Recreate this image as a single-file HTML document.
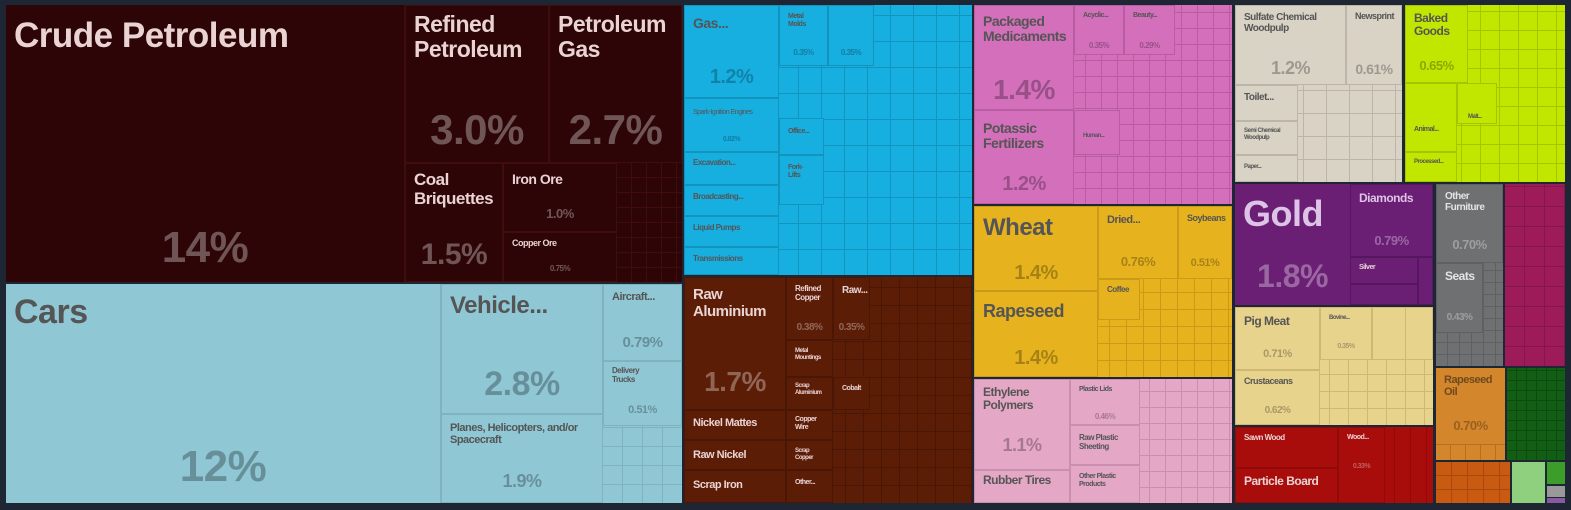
<!DOCTYPE html>
<html><head><meta charset="utf-8">
<style>
body{margin:0;background:#1e2533;width:1571px;height:510px;overflow:hidden;font-family:"Liberation Sans",sans-serif}
.b{position:absolute;box-sizing:border-box;overflow:hidden;font-weight:bold;letter-spacing:-0.5px}
.d{color:#ead3d3}.d .p{color:rgba(255,255,255,0.32)}
.l{color:#555}.l .p{color:rgba(0,0,0,0.28)}
.t{position:absolute;left:8px;top:6px;line-height:1.1}
.p{position:absolute;left:0;right:0;text-align:center}
.g{position:absolute;box-sizing:border-box}
</style></head><body>

<!-- Minerals -->
<div class="b d" style="left:6px;top:5px;width:676px;height:277px;background:#2d0507"></div>
<div class="b d" style="left:6px;top:5px;width:399px;height:277px;border-right:1px solid #400c0e"><div class="t" style="font-size:35px;top:12px">Crude Petroleum</div><div class="p" style="top:218px;font-size:44px">14%</div></div>
<div class="b d" style="left:405px;top:5px;width:144px;height:158px;border:1px solid #400c0e"><div class="t" style="font-size:23px;top:6px">Refined<br>Petroleum</div><div class="p" style="top:100px;font-size:42px">3.0%</div></div>
<div class="b d" style="left:549px;top:5px;width:133px;height:158px;border:1px solid #400c0e"><div class="t" style="font-size:23px;top:6px">Petroleum<br>Gas</div><div class="p" style="top:100px;font-size:42px">2.7%</div></div>
<div class="b d" style="left:405px;top:163px;width:98px;height:119px;border:1px solid #400c0e"><div class="t" style="font-size:17px;top:7px">Coal<br>Briquettes</div><div class="p" style="top:74px;font-size:30px">1.5%</div></div>
<div class="b d" style="left:503px;top:163px;width:114px;height:69px;border:1px solid #400c0e"><div class="t" style="font-size:14px;top:8px">Iron Ore</div><div class="p" style="top:42px;font-size:13px">1.0%</div></div>
<div class="b d" style="left:503px;top:232px;width:114px;height:50px;border:1px solid #400c0e"><div class="t" style="font-size:9px;top:6px">Copper Ore</div><div class="p" style="top:31px;font-size:8px">0.75%</div></div>
<div class="g" style="left:617px;top:163px;width:65px;height:119px;background:repeating-linear-gradient(90deg,transparent 0 14px,#400c0e 14px 15px),repeating-linear-gradient(0deg,transparent 0 14px,#400c0e 14px 15px)"></div>

<!-- Transport -->
<div class="b l" style="left:6px;top:284px;width:676px;height:219px;background:#8fc7d4"></div>
<div class="b l" style="left:6px;top:284px;width:435px;height:219px;border-right:1px solid #7fb3bf"><div class="t" style="font-size:34px;top:10px">Cars</div><div class="p" style="top:158px;font-size:44px">12%</div></div>
<div class="b l" style="left:441px;top:284px;width:162px;height:130px;border:1px solid #7fb3bf"><div class="t" style="font-size:24px;top:8px">Vehicle...</div><div class="p" style="top:80px;font-size:34px">2.8%</div></div>
<div class="b l" style="left:441px;top:414px;width:162px;height:89px;border:1px solid #7fb3bf"><div class="t" style="font-size:11px;top:7px">Planes, Helicopters, and/or<br>Spacecraft</div><div class="p" style="top:56px;font-size:18px">1.9%</div></div>
<div class="b l" style="left:603px;top:284px;width:79px;height:77px;border:1px solid #7fb3bf"><div class="t" style="font-size:11px;top:6px">Aircraft...</div><div class="p" style="top:49px;font-size:15px">0.79%</div></div>
<div class="b l" style="left:603px;top:361px;width:79px;height:65px;border:1px solid #7fb3bf"><div class="t" style="font-size:8px;top:5px">Delivery<br>Trucks</div><div class="p" style="top:42px;font-size:11px">0.51%</div></div>
<div class="g" style="left:603px;top:426px;width:79px;height:77px;background:repeating-linear-gradient(90deg,transparent 0 19px,#7fb3bf 19px 20px),repeating-linear-gradient(0deg,transparent 0 18px,#7fb3bf 18px 19px)"></div>

<!-- Machines -->
<div class="b l" style="left:684px;top:5px;width:288px;height:270px;background:#17aee0;background-image:repeating-linear-gradient(90deg,transparent 0 22px,#1294bf 22px 23px),repeating-linear-gradient(0deg,transparent 0 25px,#1294bf 25px 26px)"></div>
<div class="b l" style="left:684px;top:5px;width:95px;height:93px;background:#17aee0;border:1px solid #1294bf"><div class="t" style="font-size:14px;top:10px">Gas...</div><div class="p" style="top:60px;font-size:20px;color:rgba(0,0,0,.25)">1.2%</div></div>
<div class="b l" style="left:684px;top:98px;width:95px;height:54px;background:#17aee0;border:1px solid #1294bf"><div class="t" style="font-size:7px;top:10px;font-weight:normal">Spark-Ignition Engines</div><div class="p" style="top:37px;font-size:7px">0.82%</div></div>
<div class="b l" style="left:684px;top:152px;width:95px;height:33px;background:#17aee0;border:1px solid #1294bf"><div class="t" style="font-size:8px;top:6px">Excavation...</div></div>
<div class="b l" style="left:684px;top:185px;width:95px;height:31px;background:#17aee0;border:1px solid #1294bf"><div class="t" style="font-size:8px;top:7px">Broadcasting...</div></div>
<div class="b l" style="left:684px;top:216px;width:95px;height:31px;background:#17aee0;border:1px solid #1294bf"><div class="t" style="font-size:8px;top:7px">Liquid Pumps</div></div>
<div class="b l" style="left:684px;top:247px;width:95px;height:28px;background:#17aee0;border:1px solid #1294bf"><div class="t" style="font-size:8px;top:7px">Transmissions</div></div>
<div class="b l" style="left:779px;top:5px;width:49px;height:61px;background:#17aee0;border:1px solid #1294bf"><div class="t" style="font-size:7px;top:7px">Metal<br>Molds</div><div class="p" style="top:42px;font-size:8px">0.35%</div></div>
<div class="b l" style="left:828px;top:5px;width:46px;height:61px;background:#17aee0;border:1px solid #1294bf"><div class="p" style="top:42px;font-size:8px">0.35%</div></div>
<div class="b l" style="left:779px;top:118px;width:45px;height:37px;background:#17aee0;border:1px solid #1294bf"><div class="t" style="font-size:7px;top:9px">Office...</div></div>
<div class="b l" style="left:779px;top:155px;width:45px;height:50px;background:#17aee0;border:1px solid #1294bf"><div class="t" style="font-size:7px;top:8px">Fork-<br>Lifts</div></div>

<!-- Metals -->
<div class="b d" style="left:684px;top:277px;width:288px;height:226px;background:#5c1d07;background-image:repeating-linear-gradient(90deg,transparent 0 17px,#4a1605 17px 18px),repeating-linear-gradient(0deg,transparent 0 17px,#4a1605 17px 18px)"></div>
<div class="b d" style="left:684px;top:277px;width:102px;height:133px;background:#5c1d07;border:1px solid #4a1605"><div class="t" style="font-size:15px;top:9px">Raw<br>Aluminium</div><div class="p" style="top:88px;font-size:28px">1.7%</div></div>
<div class="b d" style="left:684px;top:410px;width:102px;height:30px;background:#5c1d07;border:1px solid #4a1605"><div class="t" style="font-size:11px;top:6px">Nickel Mattes</div></div>
<div class="b d" style="left:684px;top:440px;width:102px;height:30px;background:#5c1d07;border:1px solid #4a1605"><div class="t" style="font-size:11px;top:8px">Raw Nickel</div></div>
<div class="b d" style="left:684px;top:470px;width:102px;height:33px;background:#5c1d07;border:1px solid #4a1605"><div class="t" style="font-size:11px;top:8px">Scrap Iron</div></div>
<div class="b d" style="left:786px;top:277px;width:47px;height:63px;background:#5c1d07;border:1px solid #4a1605"><div class="t" style="font-size:8px;top:7px">Refined<br>Copper</div><div class="p" style="top:44px;font-size:10px">0.38%</div></div>
<div class="b d" style="left:833px;top:277px;width:37px;height:63px;background:#5c1d07;border:1px solid #4a1605"><div class="t" style="font-size:10px;top:7px">Raw...</div><div class="p" style="top:44px;font-size:10px">0.35%</div></div>
<div class="b d" style="left:786px;top:340px;width:47px;height:37px;background:#5c1d07;border:1px solid #4a1605"><div class="t" style="font-size:6px;top:7px">Metal<br>Mountings</div></div>
<div class="b d" style="left:786px;top:377px;width:47px;height:33px;background:#5c1d07;border:1px solid #4a1605"><div class="t" style="font-size:6px;top:5px">Scrap<br>Aluminium</div></div>
<div class="b d" style="left:786px;top:410px;width:47px;height:30px;background:#5c1d07;border:1px solid #4a1605"><div class="t" style="font-size:7px;top:5px">Copper<br>Wire</div></div>
<div class="b d" style="left:786px;top:440px;width:47px;height:30px;background:#5c1d07;border:1px solid #4a1605"><div class="t" style="font-size:6px;top:7px">Scrap<br>Copper</div></div>
<div class="b d" style="left:786px;top:470px;width:47px;height:33px;background:#5c1d07;border:1px solid #4a1605"><div class="t" style="font-size:7px;top:8px">Other...</div></div>
<div class="b d" style="left:833px;top:377px;width:37px;height:33px;background:#5c1d07;border:1px solid #4a1605"><div class="t" style="font-size:7px;top:7px">Cobalt</div></div>

<!-- Chemicals -->
<div class="b l" style="left:974px;top:5px;width:258px;height:199px;background:#d36fbb;background-image:repeating-linear-gradient(90deg,transparent 0 15px,#b85da2 15px 16px),repeating-linear-gradient(0deg,transparent 0 15px,#b85da2 15px 16px)"></div>
<div class="b l" style="left:974px;top:5px;width:100px;height:105px;background:#d36fbb;border:1px solid #b85da2"><div class="t" style="font-size:14px;top:8px">Packaged<br>Medicaments</div><div class="p" style="top:68px;font-size:28px">1.4%</div></div>
<div class="b l" style="left:974px;top:110px;width:100px;height:94px;background:#d36fbb;border:1px solid #b85da2"><div class="t" style="font-size:14px;top:10px">Potassic<br>Fertilizers</div><div class="p" style="top:62px;font-size:20px">1.2%</div></div>
<div class="b l" style="left:1074px;top:5px;width:50px;height:50px;background:#d36fbb;border:1px solid #b85da2"><div class="t" style="font-size:7px;top:6px">Acyclic...</div><div class="p" style="top:35px;font-size:8px">0.35%</div></div>
<div class="b l" style="left:1124px;top:5px;width:51px;height:50px;background:#d36fbb;border:1px solid #b85da2"><div class="t" style="font-size:7px;top:6px">Beauty...</div><div class="p" style="top:35px;font-size:8px">0.29%</div></div>
<div class="b l" style="left:1074px;top:110px;width:46px;height:45px;background:#d36fbb;border:1px solid #b85da2"><div class="t" style="font-size:6px;top:22px">Human...</div></div>

<!-- Vegetable -->
<div class="b l" style="left:974px;top:206px;width:258px;height:171px;background:#e6b31e;background-image:repeating-linear-gradient(90deg,transparent 0 16px,#c99b16 16px 17px),repeating-linear-gradient(0deg,transparent 0 16px,#c99b16 16px 17px)"></div>
<div class="b l" style="left:974px;top:206px;width:124px;height:85px;background:#e6b31e;border:1px solid #c99b16"><div class="t" style="font-size:24px;top:8px">Wheat</div><div class="p" style="top:55px;font-size:20px">1.4%</div></div>
<div class="b l" style="left:974px;top:291px;width:124px;height:86px;background:#e6b31e;border:1px solid #c99b16"><div class="t" style="font-size:18px;top:10px">Rapeseed</div><div class="p" style="top:55px;font-size:20px">1.4%</div></div>
<div class="b l" style="left:1098px;top:206px;width:80px;height:73px;background:#e6b31e;border:1px solid #c99b16"><div class="t" style="font-size:11px;top:7px">Dried...</div><div class="p" style="top:47px;font-size:13px">0.76%</div></div>
<div class="b l" style="left:1178px;top:206px;width:54px;height:73px;background:#e6b31e;border:1px solid #c99b16"><div class="t" style="font-size:9px;top:7px">Soybeans</div><div class="p" style="top:50px;font-size:11px">0.51%</div></div>
<div class="b l" style="left:1098px;top:279px;width:42px;height:41px;background:#e6b31e;border:1px solid #c99b16"><div class="t" style="font-size:8px;top:6px">Coffee</div></div>

<!-- Plastics -->
<div class="b l" style="left:974px;top:379px;width:258px;height:124px;background:#e4a7c6;background-image:repeating-linear-gradient(90deg,transparent 0 15px,#c990ad 15px 16px),repeating-linear-gradient(0deg,transparent 0 15px,#c990ad 15px 16px)"></div>
<div class="b l" style="left:974px;top:379px;width:96px;height:91px;background:#e4a7c6;border:1px solid #c990ad"><div class="t" style="font-size:12px;top:6px">Ethylene<br>Polymers</div><div class="p" style="top:55px;font-size:18px">1.1%</div></div>
<div class="b l" style="left:974px;top:470px;width:96px;height:33px;background:#e4a7c6;border:1px solid #c990ad"><div class="t" style="font-size:12px;top:3px">Rubber Tires</div></div>
<div class="b l" style="left:1070px;top:379px;width:70px;height:46px;background:#e4a7c6;border:1px solid #c990ad"><div class="t" style="font-size:7px;top:6px">Plastic Lids</div><div class="p" style="top:32px;font-size:8px">0.46%</div></div>
<div class="b l" style="left:1070px;top:425px;width:70px;height:40px;background:#e4a7c6;border:1px solid #c990ad"><div class="t" style="font-size:8px;top:8px">Raw Plastic<br>Sheeting</div></div>
<div class="b l" style="left:1070px;top:465px;width:70px;height:38px;background:#e4a7c6;border:1px solid #c990ad"><div class="t" style="font-size:7px;top:7px">Other Plastic<br>Products</div></div>

<!-- Paper -->
<div class="b l" style="left:1235px;top:5px;width:167px;height:177px;background:#d9d3c6;background-image:repeating-linear-gradient(90deg,transparent 0 22px,#bdb6a8 22px 23px),repeating-linear-gradient(0deg,transparent 0 22px,#bdb6a8 22px 23px)"></div>
<div class="b l" style="left:1235px;top:5px;width:111px;height:80px;background:#d9d3c6;border:1px solid #bdb6a8"><div class="t" style="font-size:10px;top:6px">Sulfate Chemical<br>Woodpulp</div><div class="p" style="top:52px;font-size:18px">1.2%</div></div>
<div class="b l" style="left:1346px;top:5px;width:56px;height:80px;background:#d9d3c6;border:1px solid #bdb6a8"><div class="t" style="font-size:9px;top:6px">Newsprint</div><div class="p" style="top:55px;font-size:14px">0.61%</div></div>
<div class="b l" style="left:1235px;top:85px;width:63px;height:36px;background:#d9d3c6;border:1px solid #bdb6a8"><div class="t" style="font-size:10px;top:6px">Toilet...</div></div>
<div class="b l" style="left:1235px;top:121px;width:63px;height:34px;background:#d9d3c6;border:1px solid #bdb6a8"><div class="t" style="font-size:6px;top:6px">Semi Chemical<br>Woodpulp</div></div>
<div class="b l" style="left:1235px;top:155px;width:63px;height:27px;background:#d9d3c6;border:1px solid #bdb6a8"><div class="t" style="font-size:6px;top:8px">Paper...</div></div>

<!-- Foodstuffs -->
<div class="b l" style="left:1405px;top:5px;width:160px;height:177px;background:#c1e600;background-image:repeating-linear-gradient(90deg,transparent 0 18px,#a6c500 18px 19px),repeating-linear-gradient(0deg,transparent 0 18px,#a6c500 18px 19px)"></div>
<div class="b l" style="left:1405px;top:5px;width:63px;height:78px;background:#c1e600;border:1px solid #a6c500"><div class="t" style="font-size:12px;top:6px">Baked<br>Goods</div><div class="p" style="top:52px;font-size:13px">0.65%</div></div>
<div class="b l" style="left:1405px;top:83px;width:52px;height:69px;background:#c1e600;border:1px solid #a6c500"><div class="t" style="font-size:7px;top:42px">Animal...</div></div>
<div class="b l" style="left:1405px;top:152px;width:52px;height:30px;background:#c1e600;border:1px solid #a6c500"><div class="t" style="font-size:6px;top:6px">Processed...</div></div>
<div class="b l" style="left:1457px;top:83px;width:40px;height:41px;background:#c1e600;border:1px solid #a6c500"><div class="t" style="font-size:6px;top:30px;left:10px">Malt...</div></div>

<!-- Precious metals -->
<div class="b d" style="left:1235px;top:184px;width:198px;height:121px;background:#6a1f75;color:#ddc3e6"></div>
<div class="b d" style="left:1235px;top:184px;width:115px;height:121px;color:#ddc3e6"><div class="t" style="font-size:36px;top:10px">Gold</div><div class="p" style="top:74px;font-size:32px">1.8%</div></div>
<div class="b d" style="left:1350px;top:184px;width:83px;height:73px;border:1px solid #561760;color:#ddc3e6"><div class="t" style="font-size:12px;top:7px">Diamonds</div><div class="p" style="top:48px;font-size:13px">0.79%</div></div>
<div class="b d" style="left:1350px;top:257px;width:68px;height:27px;border:1px solid #561760"><div class="t" style="font-size:7px;top:6px">Silver</div></div>
<div class="g" style="left:1350px;top:284px;width:68px;height:21px;border:1px solid #561760"></div>
<div class="g" style="left:1418px;top:257px;width:15px;height:48px;border:1px solid #561760"></div>

<!-- Animal -->
<div class="b l" style="left:1235px;top:307px;width:198px;height:118px;background:#e8d38d;background-image:repeating-linear-gradient(90deg,transparent 0 18px,#cdb974 18px 19px),repeating-linear-gradient(0deg,transparent 0 16px,#cdb974 16px 17px)"></div>
<div class="b l" style="left:1235px;top:307px;width:85px;height:63px;background:#e8d38d;border:1px solid #cdb974"><div class="t" style="font-size:12px;top:7px">Pig Meat</div><div class="p" style="top:40px;font-size:11px">0.71%</div></div>
<div class="b l" style="left:1235px;top:370px;width:85px;height:55px;background:#e8d38d;border:1px solid #cdb974"><div class="t" style="font-size:9px;top:6px">Crustaceans</div><div class="p" style="top:34px;font-size:10px">0.62%</div></div>
<div class="b l" style="left:1320px;top:307px;width:52px;height:53px;background:#e8d38d;border:1px solid #cdb974"><div class="t" style="font-size:6px;top:7px">Bovine...</div><div class="p" style="top:35px;font-size:7px">0.35%</div></div>
<div class="g" style="left:1372px;top:307px;width:61px;height:53px;background:#e8d38d;border:1px solid #cdb974;background-image:linear-gradient(90deg,transparent 0 32px,#cdb974 32px 33px,transparent 33px)"></div>

<!-- Wood -->
<div class="b d" style="left:1235px;top:427px;width:198px;height:76px;background:#a80d0b;background-image:repeating-linear-gradient(90deg,transparent 0 15px,#8f0a09 15px 16px)"></div>
<div class="b d" style="left:1235px;top:427px;width:103px;height:41px;background:#a80d0b;border:1px solid #8f0a09"><div class="t" style="font-size:8px;top:6px">Sawn Wood</div></div>
<div class="b d" style="left:1235px;top:468px;width:103px;height:35px;background:#a80d0b;border:1px solid #8f0a09"><div class="t" style="font-size:12px;top:6px">Particle Board</div></div>
<div class="b d" style="left:1338px;top:427px;width:47px;height:76px;background:#a80d0b;border:1px solid #8f0a09"><div class="t" style="font-size:7px;top:6px">Wood...</div><div class="p" style="top:35px;font-size:7px">0.33%</div></div>

<!-- Furniture -->
<div class="b d" style="left:1436px;top:184px;width:67px;height:182px;background:#6e7072;background-image:repeating-linear-gradient(90deg,transparent 0 11px,#5e6062 11px 12px),repeating-linear-gradient(0deg,transparent 0 11px,#5e6062 11px 12px)"></div>
<div class="b d" style="left:1436px;top:184px;width:67px;height:79px;background:#6e7072;border:1px solid #5e6062;color:#e4e4e4"><div class="t" style="font-size:10px;top:6px">Other<br>Furniture</div><div class="p" style="top:52px;font-size:13px">0.70%</div></div>
<div class="b d" style="left:1436px;top:263px;width:47px;height:70px;background:#6e7072;border:1px solid #5e6062;color:#e4e4e4"><div class="t" style="font-size:12px;top:6px">Seats</div><div class="p" style="top:48px;font-size:10px">0.43%</div></div>

<div class="g" style="left:1505px;top:184px;width:60px;height:182px;background:#9e1b5a;background-image:repeating-linear-gradient(90deg,transparent 0 19px,#85164b 19px 20px),repeating-linear-gradient(0deg,transparent 0 19px,#85164b 19px 20px)"></div>

<div class="b l" style="left:1436px;top:368px;width:69px;height:92px;background:#d3862b;color:#6e4a1e"><div class="t" style="font-size:11px;top:6px">Rapeseed<br>Oil</div><div class="p" style="top:50px;font-size:13px">0.70%</div><div class="g" style="left:0;top:76px;width:69px;height:16px;background:repeating-linear-gradient(90deg,transparent 0 14px,#b8701f 14px 15px);border-top:1px solid #b8701f"></div></div>
<div class="g" style="left:1507px;top:368px;width:58px;height:92px;background:#125e14;background-image:repeating-linear-gradient(90deg,transparent 0 9px,#0d4a0f 9px 10px),repeating-linear-gradient(0deg,transparent 0 9px,#0d4a0f 9px 10px)"></div>

<div class="g" style="left:1436px;top:462px;width:74px;height:41px;background:#c85a12;background-image:repeating-linear-gradient(90deg,transparent 0 15px,#a84a0e 15px 16px),repeating-linear-gradient(0deg,transparent 0 13px,#a84a0e 13px 14px)"></div>
<div class="g" style="left:1512px;top:462px;width:33px;height:41px;background:#8fd07e"></div>
<div class="g" style="left:1547px;top:462px;width:18px;height:22px;background:#3c9d2a"></div>
<div class="g" style="left:1547px;top:486px;width:18px;height:11px;background:#999"></div>
<div class="g" style="left:1547px;top:498px;width:18px;height:5px;background:#8a5aa0"></div>
</body></html>
